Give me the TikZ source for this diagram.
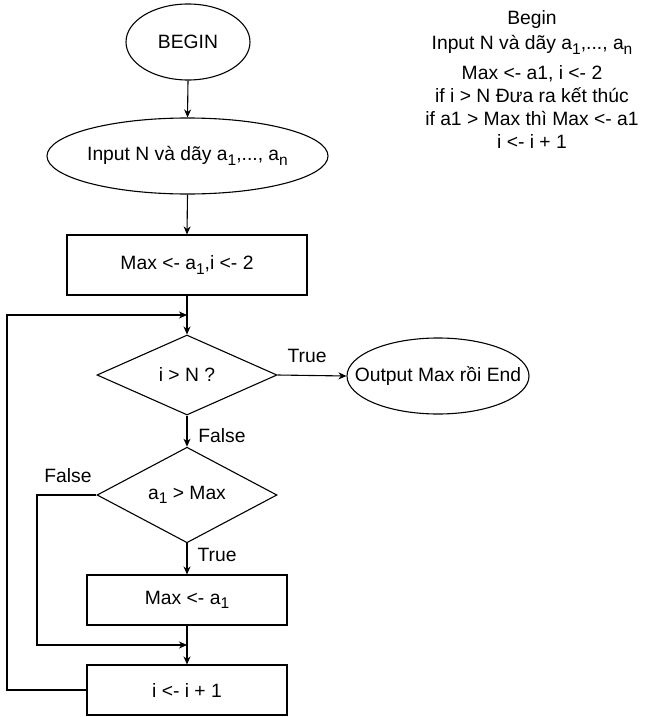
\documentclass[tikz,border=0pt]{standalone}
\usepackage{fontspec}
\setmainfont{Liberation Sans}
\usetikzlibrary{arrows.meta,shapes.geometric}

% lowered index, as in a1, an
\newcommand\idx[1]{\raisebox{-4.5pt}{\fontsize{15.5}{15.5}\selectfont #1}}

\begin{document}
\begin{tikzpicture}[x=1pt,y=-1pt,line width=1.1pt,
  every node/.style={font=\fontsize{19.3}{23}\selectfont,inner sep=0pt},
  oval/.style={draw,ellipse,inner xsep=-25pt},
  stepbox/.style={draw,rectangle},
  test/.style={draw,diamond,minimum width=180pt,minimum height=80pt},
  lbl/.style={},
  arr/.style={-{Stealth[length=8pt,width=7pt,inset=2.5pt]}}]

\useasboundingbox (0,0) rectangle (658,717);

% flowchart blocks
\node[oval,minimum width=124pt,minimum height=76pt] (begin) at (188,42) {BEGIN};
\node[oval,minimum width=281pt,minimum height=76pt] (input) at (187.5,156)
  {Input N và dãy a\idx{1},..., a\idx{n}};
\node[stepbox,minimum width=240pt,minimum height=60pt] (init) at (187,265)
  {Max <- a\idx{1},i <- 2};
\node[test] (cond1) at (187,375) {i > N ?};
\node[oval,minimum width=182pt,minimum height=76pt] (out) at (438,376)
  {Output Max rồi End};
\node[test] (cond2) at (187,495) {a\idx{1} > Max};
\node[stepbox,minimum width=200pt,minimum height=50pt] (upd) at (187,600)
  {Max <- a\idx{1}};
\node[stepbox,minimum width=200pt,minimum height=50pt] (inc) at (187,690)
  {i <- i + 1};

% junction points of the two loops
\coordinate (j1) at (187,315);
\coordinate (j2) at (187,645);
\coordinate (l1) at (7,315);
\coordinate (l2) at (37,645);

% connectors
\draw[arr] (begin.south) -- (input.north);
\draw[arr] (input.south) -- (init.north);
\draw[arr] (init.south) -- (cond1.north);
\draw[arr] (cond1.east) -- (out.west);
\draw[arr] (cond1.south) -- (cond2.north);
\draw[arr] (cond2.south) -- (upd.north);
\draw[arr] (upd.south) -- (inc.north);
\draw[arr] (cond2.west) -| (l2) -- (j2);
\draw[arr] (inc.west) -| (l1) -- (j1);

% branch labels
\node[lbl] (tTrue1) at (307,356) {True};
\node[lbl] (tFalse1) at (222,436) {False};
\node[lbl] (tFalse2) at (68,476) {False};
\node[lbl] (tTrue2) at (217,555) {True};

% pseudo-code
\node[anchor=base] (p1) at (532,25) {Begin};
\node[anchor=base] (p2) at (532,50) {Input N và dãy a\idx{1},..., a\idx{n}};
\node[anchor=base] (p3) at (532,79) {Max <- a1, i <- 2};
\node[anchor=base] (p4) at (532,102) {if i > N Đưa ra kết thúc};
\node[anchor=base] (p5) at (532,125) {if a1 > Max thì Max <- a1};
\node[anchor=base] (p6) at (532,148) {i <- i + 1};
\end{tikzpicture}
\end{document}
